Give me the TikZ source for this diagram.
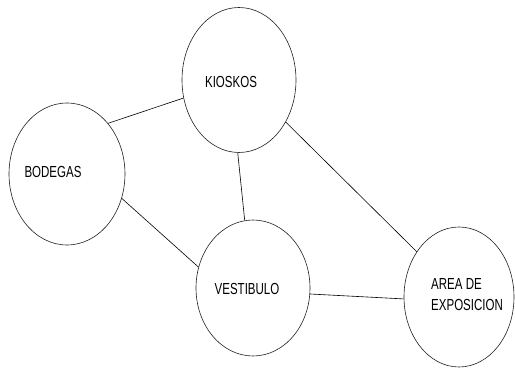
\documentclass[tikz,border=0pt]{standalone}
\usepackage{fontspec}
\usepackage{tikz}
\usetikzlibrary{shapes.geometric}
\newfontfamily\plainlbl[FakeStretch=0.72]{Liberation Sans}
\definecolor{roomline}{HTML}{202020}
\tikzset{
  room/.style={draw=roomline, ellipse, line width=0.6pt, inner sep=0pt},
  roomlbl/.style={font=\plainlbl\fontsize{16}{20}\selectfont, align=left, inner sep=0pt},
  link/.style={draw=black, line width=0.6pt},
}
\begin{document}
\begin{tikzpicture}[x=1pt, y=-1pt]
  \useasboundingbox (0,0) rectangle (515,371);
  % rooms
  \node[room, minimum width=114pt, minimum height=145pt] (kioskos) at (239,80) {};
  \node[room, minimum width=116pt, minimum height=142pt] (bodegas) at (67,174) {};
  \node[room, minimum width=114pt, minimum height=136pt] (vestibulo) at (253,288) {};
  \node[room, minimum width=110pt, minimum height=140pt] (area) at (459,297) {};
  % names
  \node[roomlbl] (kioskos-t) at (231,82) {KIOSKOS};
  \node[roomlbl] (bodegas-t) at (53,172) {BODEGAS};
  \node[roomlbl] (vestibulo-t) at (247,289) {VESTIBULO};
  \node[roomlbl, anchor=west] (area-t) at (431,295) {AREA DE\\[1pt]EXPOSICION};
  % connections
  \draw[link] (bodegas.51) -- (kioskos.198);
  \draw[link] (kioskos.269) -- (vestibulo.97);
  \draw[link] (kioskos.-42) -- (area.133);
  \draw[link] (bodegas.-24) -- (vestibulo.159);
  \draw[link] (vestibulo.-6) -- (area.182);
\end{tikzpicture}
\end{document}
